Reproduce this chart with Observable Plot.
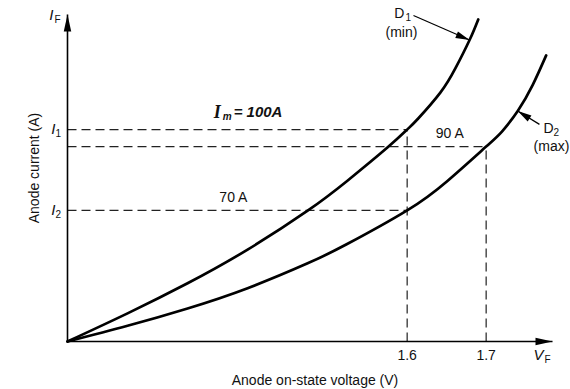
<!DOCTYPE html>
<html><head><meta charset="utf-8">
<script src="https://cdn.jsdelivr.net/npm/d3@7"></script>
<script src="https://cdn.jsdelivr.net/npm/@observablehq/plot@0.6"></script>
<style>html,body{margin:0;padding:0;background:#fff}</style>
</head><body><div id="chart"></div>
<script>
// ---- data (schematic diode forward characteristics) ----
const curveD1V = [1.170, 1.246, 1.322, 1.398, 1.474, 1.524, 1.575, 1.600, 1.614, 1.642, 1.661, 1.679, 1.690];
const curveD1I = [0, 8.6, 17.8, 28.1, 40.0, 49.1, 59.3, 64.8, 68.2, 76.1, 83.5, 92.2, 98.5];
const curveD2V = [1.170, 1.246, 1.322, 1.398, 1.474, 1.524, 1.600, 1.651, 1.700, 1.720, 1.740, 1.759, 1.776];
const curveD2I = [0, 4.8, 10.1, 16.3, 23.9, 29.8, 40.1, 49.1, 59.6, 64.2, 70.5, 78.5, 87.5];
const tickValues = [1.6, 1.7];
const tickLabels = ["1.6", "1.7"];
const levelNames = ["I1", "90A", "I2"];
const levelValues = [64.8, 59.6, 40.1];
const levelEndV = [1.6, 1.7, 1.6];
const vOrigin = 1.170, vEnd = 1.784, iEnd = 100;
const annotTexts = ["70 A", "90 A"];
const annotV = [1.380, 1.654];
const annotI = [40.1, 59.6];
const imLabelV = 1.355;
const d1Arrow = {from: [1.608, 99.7], to: [1.679, 92.2]};
const d2Arrow = {from: [1.7675, 66.4], to: [1.740, 70.5]};

// ---- helpers ----
const font = "Liberation Sans, Arial, Helvetica, sans-serif";
const curveD1 = curveD1V.map((v, i) => ({v, i: curveD1I[i]}));
const curveD2 = curveD2V.map((v, i) => ({v, i: curveD2I[i]}));
const levels = levelNames.map((n, k) => ({n, i: levelValues[k], v2: levelEndV[k]}));
function arrowSymbol(angleDeg, ratio) {
  // tip at origin, body pointing back from the given screen direction
  return {draw(ctx, size) {
    const r = Math.sqrt(size / Math.PI);
    const a = angleDeg * Math.PI / 180;
    const ux = Math.cos(a), uy = Math.sin(a);
    const px = -uy, py = ux;
    const bx = -ux * r, by = -uy * r, w = r * ratio;
    ctx.moveTo(0, 0);
    ctx.lineTo(bx + px * w, by + py * w);
    ctx.lineTo(bx - px * w, by - py * w);
    ctx.closePath();
  }};
}
const ang1 = Math.atan2(23, 56) * 180 / Math.PI;
const ang2 = Math.atan2(-14, -22) * 180 / Math.PI;

const T = (data, o) => Plot.text(data, {fontFamily: font, fontSize: 14, fill: "#111", ...o});

const chart = Plot.plot({
  width: 570, height: 389,
  marginLeft: 67, marginRight: 18, marginTop: 14, marginBottom: 48,
  x: {domain: [vOrigin, vEnd], axis: null},
  y: {domain: [0, iEnd], axis: null},
  style: {fontFamily: font, background: "#fff", overflow: "visible"},
  marks: [
    // dashed guide lines
    Plot.link(levels, {x1: vOrigin, x2: "v2", y1: "i", y2: "i", stroke: "#222", strokeWidth: 1.2, strokeDasharray: "9,5"}),
    Plot.link(levels.filter(d => d.n !== "I2"), {x1: "v2", x2: "v2", y1: 0, y2: "i", stroke: "#222", strokeWidth: 1.2, strokeDasharray: "9,5"}),
    // axes
    Plot.link([0], {x1: vOrigin, x2: vOrigin, y1: 0, y2: iEnd, stroke: "#000", strokeWidth: 1.6}),
    Plot.link([0], {x1: vOrigin, x2: vEnd, y1: 0, y2: 0, stroke: "#000", strokeWidth: 1.6}),
    Plot.dot([0], {x: vOrigin, y: iEnd, r: 17, symbol: arrowSymbol(-90, 0.22), fill: "#000", stroke: "none"}),
    Plot.dot([0], {x: vEnd, y: 0, r: 17, symbol: arrowSymbol(0, 0.22), fill: "#000", stroke: "none"}),
    // curves
    Plot.line(curveD1, {x: "v", y: "i", curve: "natural", stroke: "#000", strokeWidth: 2.7}),
    Plot.line(curveD2, {x: "v", y: "i", curve: "natural", stroke: "#000", strokeWidth: 2.7}),
    // pointer arrows
    Plot.link([d1Arrow, d2Arrow], {x1: d => d.from[0], y1: d => d.from[1], x2: d => d.to[0], y2: d => d.to[1], stroke: "#000", strokeWidth: 1.2}),
    Plot.dot([d1Arrow], {x: d => d.to[0], y: d => d.to[1], r: 14, symbol: arrowSymbol(ang1, 0.25), fill: "#000", stroke: "none"}),
    Plot.dot([d2Arrow], {x: d => d.to[0], y: d => d.to[1], r: 14, symbol: arrowSymbol(ang2, 0.25), fill: "#000", stroke: "none"}),
    // tick labels
    T(tickValues, {x: d => d, y: 0, text: (d, k) => tickLabels[k], dy: 14}),
    // axis titles
    T(["Anode on-state voltage (V)"], {x: (vOrigin + vEnd) / 2, y: 0, dx: 5, dy: 39, text: d => d}),
    T(["Anode current (A)"], {x: vOrigin, y: iEnd / 2, dx: -33, dy: -10, rotate: -90, text: d => d}),
    // axis symbols I_F, V_F
    T(["I"], {x: vOrigin, y: iEnd, dx: -14, dy: 1, textAnchor: "end", text: d => d, fontStyle: "italic", fontSize: 15}),
    T(["F"], {x: vOrigin, y: iEnd, dx: -13, dy: 5, textAnchor: "start", text: d => d, fontSize: 10}),
    T(["V"], {x: vEnd, y: 0, dx: -9, dy: 14, textAnchor: "end", text: d => d, fontStyle: "italic", fontSize: 15}),
    T(["F"], {x: vEnd, y: 0, dx: -8, dy: 18, textAnchor: "start", text: d => d, fontSize: 10}),
    // level labels I1, I2
    T(levels.filter(d => d.n !== "90A"), {x: vOrigin, y: "i", dx: -12, textAnchor: "end", text: () => "I", fontStyle: "italic", fontSize: 15}),
    T(levels.filter(d => d.n !== "90A"), {x: vOrigin, y: "i", dx: -12, dy: 4, textAnchor: "start", text: d => d.n.slice(1), fontSize: 10}),
    // current annotations
    T(annotTexts, {x: (d, k) => annotV[k], y: (d, k) => annotI[k], dy: -13, text: d => d}),
    // I_m = 100A
    T(["I"], {x: imLabelV, y: levelValues[0], dy: -17, textAnchor: "start", text: d => d, fontFamily: "Liberation Serif, Times New Roman, serif", fontStyle: "italic", fontWeight: "bold", fontSize: 18}),
    T(["m"], {x: imLabelV, y: levelValues[0], dx: 9, dy: -13, textAnchor: "start", text: d => d, fontStyle: "italic", fontWeight: "bold", fontSize: 10}),
    T(["= 100A"], {x: imLabelV, y: levelValues[0], dx: 20, dy: -17, textAnchor: "start", text: d => d, fontStyle: "italic", fontWeight: "bold", fontSize: 15}),
    // diode labels
    T(["D"], {x: d1Arrow.from[0], y: d1Arrow.from[1], dx: -9, dy: -2, textAnchor: "end", text: d => d}),
    T(["1"], {x: d1Arrow.from[0], y: d1Arrow.from[1], dx: -8, dy: 2, textAnchor: "start", text: d => d, fontSize: 10}),
    T(["(min)"], {x: d1Arrow.from[0], y: d1Arrow.from[1], dx: -12, dy: 17, text: d => d}),
    T(["D"], {x: d2Arrow.from[0], y: d2Arrow.from[1], dx: 4, dy: 4, textAnchor: "start", text: d => d}),
    T(["2"], {x: d2Arrow.from[0], y: d2Arrow.from[1], dx: 14, dy: 8, textAnchor: "start", text: d => d, fontSize: 10}),
    T(["(max)"], {x: d2Arrow.from[0], y: d2Arrow.from[1], dx: 12, dy: 22, text: d => d})
  ]
});
document.getElementById("chart").appendChild(chart);
</script>
</body></html>
